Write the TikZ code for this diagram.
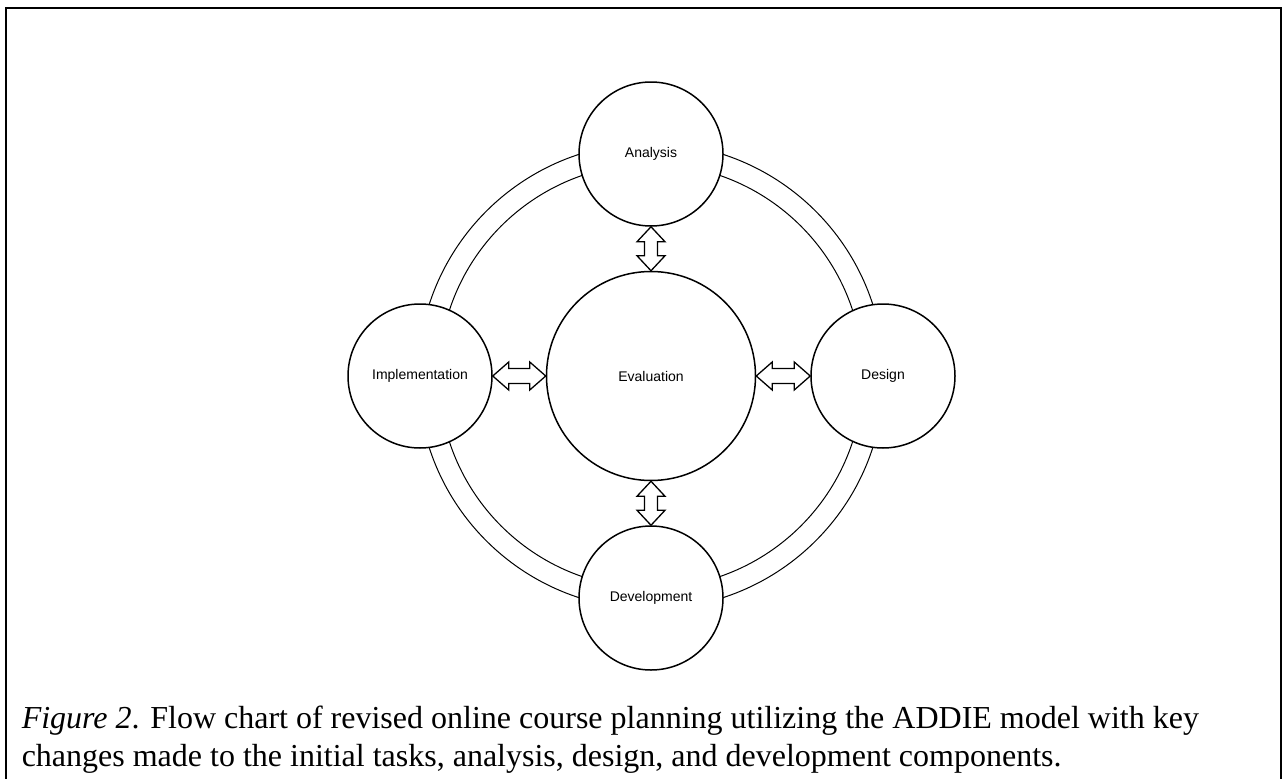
\documentclass[tikz,border=0pt]{standalone}
\usepackage{fontspec}
\setmainfont{Liberation Serif}
\newfontfamily\arialfont{Liberation Sans}
\usetikzlibrary{positioning,calc}

% vertical and horizontal double arrows between two circles
\newcommand\vflex[2]{\draw[flex] (#1.south) -- ++(14,15) -- ++(-7.5,0) -- ($(#2.north)+(6.5,-15)$) -- ++(7.5,0) -- (#2.north) -- ++(-14,-15) -- ++(7.5,0) -- ($(#1.south)+(-6.5,15)$) -- ++(-7.5,0) -- cycle;}
\newcommand\hflex[2]{\draw[flex] (#1.east) -- ++(16,-14) -- ++(0,6.5) -- ($(#2.west)+(-16,-7.5)$) -- ++(0,-6.5) -- (#2.west) -- ++(-16,14) -- ++(0,-6.5) -- ($(#1.east)+(16,7.5)$) -- ++(0,6.5) -- cycle;}

\begin{document}
\begin{tikzpicture}[x=1pt, y=-1pt, every node/.style = {shape=circle, draw, fill=white, inner sep=0pt, line width=1.5pt, font=\arialfont\fontsize{14}{16}\selectfont}]
	\tikzstyle{phase} = [minimum size=144pt]
	\tikzstyle{core} = [minimum size=209pt]
	\tikzstyle{ring} = [line width=1pt]
	\tikzstyle{flex} = [line width=1.3pt, fill=white, line join=miter]
	\tikzstyle{caption} = [shape=rectangle, draw=none, fill=none, align=left, font=\fontsize{32}{38}\selectfont]
	\useasboundingbox (0,0) rectangle (1283,779);
	\draw[line width=2.5pt] (6,779) |- (1281,8) -- (1281,779);
	\coordinate (mid) at (651,376);
	\draw[ring] (mid) circle[radius=212];
	\draw[ring] (mid) circle[radius=233];
	\node[core] (eva) at (mid) {Evaluation};
	\node[phase, above=44pt of eva] (ana) {Analysis};
	\node[phase, below=44pt of eva] (dev) {Development};
	\node[phase, left=53pt of eva] (imp) {Implementation};
	\node[phase, right=54pt of eva] (des) {Design};
	\vflex{ana}{eva}
	\vflex{eva}{dev}
	\hflex{imp}{eva}
	\hflex{eva}{des}
	\node[caption, anchor=base west] (cap) at (21,766) {\textit{Figure 2}. Flow chart of revised online course planning utilizing the ADDIE model with key\\changes made to the initial tasks, analysis, design, and development components.};
\end{tikzpicture}
\end{document}
